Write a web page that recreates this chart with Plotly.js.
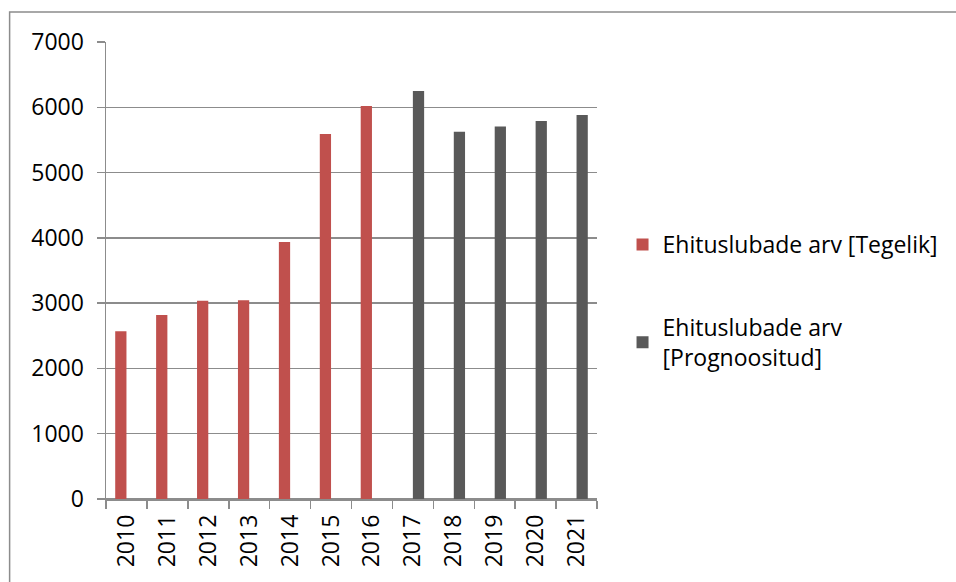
<!DOCTYPE html>
<html>
<head>
<meta charset="utf-8">
<script src="https://cdn.plot.ly/plotly-3.0.1.min.js"></script>
<style>
  html, body { margin: 0; padding: 0; background: #ffffff; }
  #chart { width: 956px; height: 582px; }
</style>
</head>
<body>
<div id="chart"></div>
<script>
// Building permits per year: actual counts and forecast
const years = ['2010', '2011', '2012', '2013', '2014', '2015', '2016',
               '2017', '2018', '2019', '2020', '2021'];
const tegelik = [2570, 2820, 3035, 3045, 3935, 5590, 6020,
                 null, null, null, null, null];
const prognoositud = [null, null, null, null, null, null, null,
                      6250, 5625, 5705, 5790, 5880];
const seriesNames = ['Ehituslubade arv [Tegelik]', 'Ehituslubade arv<br>[Prognoositud]'];
const seriesColors = ['#c0504d', '#595959'];

const FONT = 'Open Sans, Liberation Sans, sans-serif';
const GRID = '#8c8c8c';

const traces = [
  {
    type: 'bar', x: years, y: tegelik, name: seriesNames[0],
    marker: { color: seriesColors[0] }, legendgroup: 'a', hoverinfo: 'x+y'
  },
  {
    type: 'bar', x: years, y: prognoositud, name: seriesNames[1],
    marker: { color: seriesColors[1] }, legendgroup: 'b', hoverinfo: 'x+y'
  }
];

const layout = {
  width: 956, height: 582,
  margin: { l: 106, r: 357, t: 42, b: 83, pad: 0 },
  paper_bgcolor: '#ffffff', plot_bgcolor: '#ffffff',
  font: { family: FONT, size: 23, color: '#000000' },
  barmode: 'group', bargap: 0.45, bargroupgap: 0,
  showlegend: true,
  legend: {
    x: 1.052, xanchor: 'left', y: 0.604, yanchor: 'top',
    traceorder: 'grouped', tracegroupgap: 50,
    font: { family: FONT, size: 23, color: '#000000' },
    bgcolor: 'rgba(0,0,0,0)'
  },
  xaxis: {
    type: 'category', tickangle: -90,
    showgrid: false, showline: true, linecolor: GRID, linewidth: 1.5,
    ticks: 'outside', tickson: 'boundaries', ticklen: 8, tickwidth: 1.5, tickcolor: GRID,
    ticklabelstandoff: 5,
    tickfont: { family: FONT, size: 23, color: '#000000' },
    fixedrange: true
  },
  yaxis: {
    range: [0, 7000], dtick: 1000, tick0: 0,
    showgrid: true, gridcolor: GRID, gridwidth: 1.5,
    showline: true, linecolor: GRID, linewidth: 1.5,
    zeroline: true, zerolinecolor: GRID, zerolinewidth: 1.5,
    ticks: 'outside', ticklen: 8, tickwidth: 1.5, tickcolor: GRID,
    ticklabelstandoff: 8,
    tickfont: { family: FONT, size: 23, color: '#000000' },
    fixedrange: true
  },
  shapes: [
    // chart frame, running off the right and bottom edges
    {
      type: 'rect', xref: 'paper', yref: 'paper',
      x0: -0.1963, x1: 1.75, y0: -0.3, y1: 1.0656,
      line: { color: '#8c8c8c', width: 1.5 }, fillcolor: 'rgba(0,0,0,0)', layer: 'below'
    }
  ]
};

Plotly.newPlot('chart', traces, layout, { displayModeBar: false, staticPlot: true });
</script>
</body>
</html>
